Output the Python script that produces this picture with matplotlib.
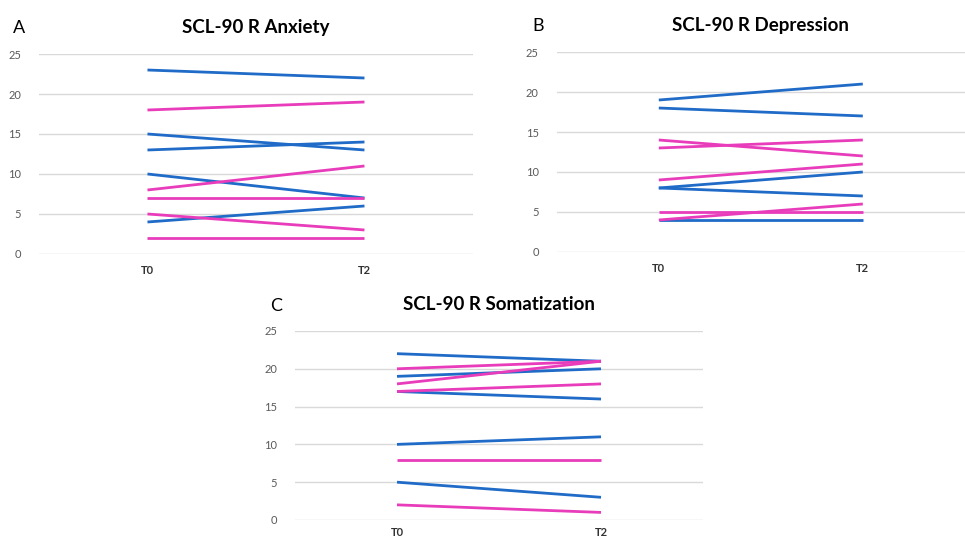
import matplotlib
matplotlib.use("Agg")
import matplotlib.pyplot as plt

plt.rcParams['font.family'] = ['Lato', 'DejaVu Sans']

timepoints = ["T0", "T2"]

# Anxiety scores per participant (T0, T2)
anxiety_blue = [[23, 22], [15, 13], [13, 14], [10, 7], [4, 6]]
anxiety_pink = [[18, 19], [8, 11], [7, 7], [5, 3], [2, 2]]

# Depression scores
depression_blue = [[19, 21], [18, 17], [8, 10], [8, 7], [4, 4]]
depression_pink = [[14, 12], [13, 14], [9, 11], [5, 5], [4, 6]]

# Somatization scores
somatization_blue = [[22, 21], [19, 20], [17, 16], [10, 11], [5, 3]]
somatization_pink = [[20, 21], [18, 21], [17, 18], [8, 8], [2, 1]]

yticks = [0, 5, 10, 15, 20, 25]

BLUE = "#1f6bc7"
PINK = "#e83cbb"


def draw_panel(ax, blue, pink, title, letter, xpad=8):
    for row in blue:
        ax.plot(timepoints, row, color=BLUE, lw=2.0, solid_capstyle="butt")
    for row in pink:
        ax.plot(timepoints, row, color=PINK, lw=2.0, solid_capstyle="butt")
    ax.set_xlim(-0.5, 1.5)
    ax.set_ylim(0, 25)
    ax.set_yticks(yticks)
    ax.grid(axis="y", color="#d9d9d9", lw=1)
    ax.set_axisbelow(True)
    for s in ax.spines.values():
        s.set_visible(False)
    ax.tick_params(length=0)
    ax.tick_params(axis="y", labelsize=8, labelcolor="#595959", pad=13)
    ax.tick_params(axis="x", labelsize=8, pad=xpad)
    for lab in ax.get_xticklabels():
        lab.set_fontweight("bold")
        lab.set_color("#333333")
    ax.set_title(title, fontsize=13.5, fontweight="bold", pad=15)
    ax.text(-0.06, 1.13, letter, transform=ax.transAxes, fontsize=13,
            ha="left", va="center")


fig = plt.figure(figsize=(9.65, 5.39), dpi=100)

ax_a = fig.add_axes([0.0404, 0.5288, 0.4497, 0.371])
ax_b = fig.add_axes([0.577, 0.5325, 0.4228, 0.371])
ax_c = fig.add_axes([0.3057, 0.0353, 0.4228, 0.3506])

draw_panel(ax_a, anxiety_blue, anxiety_pink, "SCL-90 R Anxiety", "A")
draw_panel(ax_b, depression_blue, depression_pink, "SCL-90 R Depression", "B")
draw_panel(ax_c, somatization_blue, somatization_pink, "SCL-90 R Somatization", "C", xpad=5)

fig.savefig("out.png", dpi=100, facecolor="white")
